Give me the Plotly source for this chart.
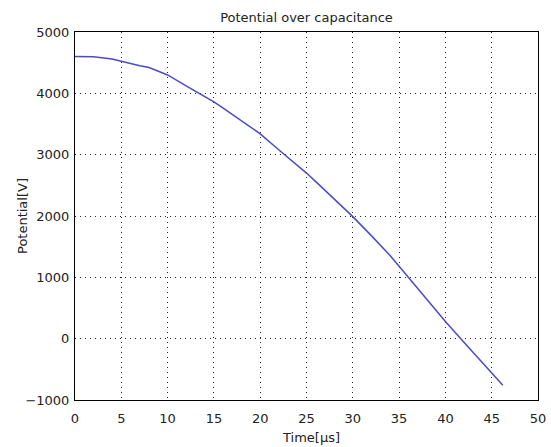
import plotly.graph_objects as go

time_us = [0, 2, 4, 5, 7, 8, 10, 12, 14, 15, 16, 18, 20, 22, 24, 25, 26, 28, 30, 32, 34, 35, 36, 38, 40, 42, 44, 46.2]
potential_v = [4600, 4595, 4560, 4520, 4450, 4420, 4300, 4120, 3950, 3860, 3760, 3550, 3340, 3080, 2830, 2700,
               2560, 2280, 1990, 1680, 1360, 1180, 1000, 640, 280, -60, -400, -760]

x_ticks = [0, 5, 10, 15, 20, 25, 30, 35, 40, 45, 50]
y_ticks = [-1000, 0, 1000, 2000, 3000, 4000, 5000]

fig = go.Figure()
fig.add_trace(go.Scatter(x=time_us, y=potential_v, mode="lines",
                         line=dict(color="#4a4ad0", width=1.5), showlegend=False))

font = dict(family="DejaVu Sans", size=13, color="#222222")
axis_common = dict(showline=True, linecolor="black", linewidth=1, mirror=True,
                   showgrid=True, gridcolor="#222222", gridwidth=1, griddash="1px,4px",
                   zeroline=False, ticks="", tickfont=font, automargin=False)

fig.update_xaxes(range=[0, 50], tickvals=x_ticks, ticklabelstandoff=6, **axis_common)
fig.update_yaxes(range=[-1000, 5000], tickvals=y_ticks, ticklabelstandoff=2, **axis_common)

fig.update_layout(
    width=551, height=447,
    margin=dict(l=75, r=13, t=32, b=47),
    paper_bgcolor="white", plot_bgcolor="white",
    title=dict(text="Potential over capacitance", font=font, x=0.5, xref="paper", y=1 - 17 / 447,
               yref="container", xanchor="center", yanchor="middle"),
)
fig.add_annotation(text="Time[μs]", xref="paper", yref="paper", x=0.51, y=0, yshift=-37,
                   showarrow=False, font=font, xanchor="center", yanchor="middle")
fig.add_annotation(text="Potential[V]", xref="paper", yref="paper", x=0, xshift=-53, y=0.5,
                   showarrow=False, font=font, textangle=-90, xanchor="center", yanchor="middle")

fig.write_html("out.html")
